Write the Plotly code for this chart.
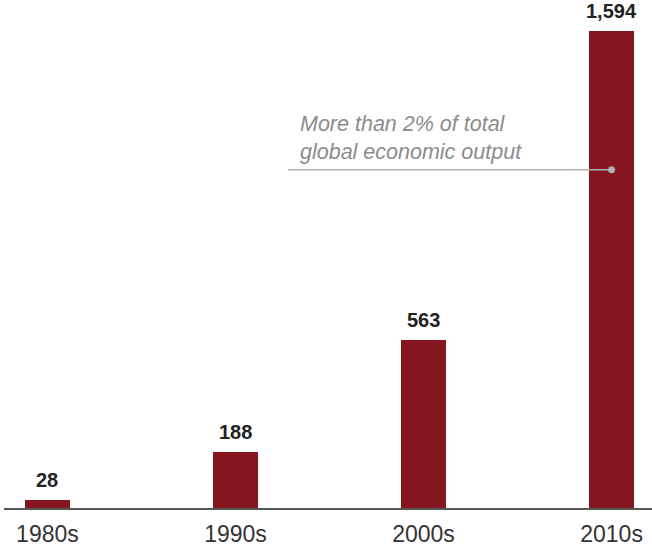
import plotly.graph_objects as go

decades = ["1980s", "1990s", "2000s", "2010s"]
values = [28, 188, 563, 1594]
note_text = "More than 2% of total<br>global economic output"

BAR = "#84151f"
FONT = "Liberation Sans, Arial, Helvetica, sans-serif"

xs = list(range(len(decades)))
fig = go.Figure()
fig.add_trace(go.Bar(
    x=xs, y=values, width=0.24, marker=dict(color=BAR, line=dict(width=0)),
    hoverinfo="skip", showlegend=False,
))

# value labels
for x, v in zip(xs, values):
    fig.add_annotation(
        x=x, y=v, xref="x", yref="y", text=f"<b>{v:,}</b>", showarrow=False,
        yanchor="bottom", yshift=7, font=dict(family=FONT, size=20, color="#222222"),
    )

# callout on last bar
last_x = xs[-1]
dot_y = 1130
fig.add_shape(type="line", xref="x", yref="y", x0=1.28, x1=last_x, y0=dot_y, y1=dot_y,
              line=dict(color="#aeaeb4", width=1.5), layer="above")
fig.add_trace(go.Scatter(x=[last_x], y=[dot_y], mode="markers",
                         marker=dict(size=7, color="#aeaeb4"), hoverinfo="skip", showlegend=False))
fig.add_annotation(
    x=1.332, y=1236, xref="x", yref="y", text=f"<i>{note_text}</i>", showarrow=False,
    xanchor="left", yanchor="middle", align="left",
    font=dict(family=FONT, size=21.5, color="#8c8c8c"),
)

fig.update_layout(
    width=652, height=546,
    margin=dict(l=4, r=0, t=0, b=38),
    paper_bgcolor="white", plot_bgcolor="white",
    xaxis=dict(
        range=[-0.231, 3.215], tickmode="array", tickvals=xs, ticktext=decades,
        showgrid=False, zeroline=False, showline=True, linecolor="#555555", linewidth=2,
        ticks="", tickfont=dict(family=FONT, size=23, color="#333333"), ticklabelstandoff=4,
        fixedrange=True,
    ),
    yaxis=dict(range=[0, 1697.6], visible=False, showgrid=False, zeroline=False, fixedrange=True),
    bargap=0,
)

fig.write_html("out.html", config={"displayModeBar": False},
               post_script="document.body.style.margin='0';document.body.style.overflow='hidden';")
